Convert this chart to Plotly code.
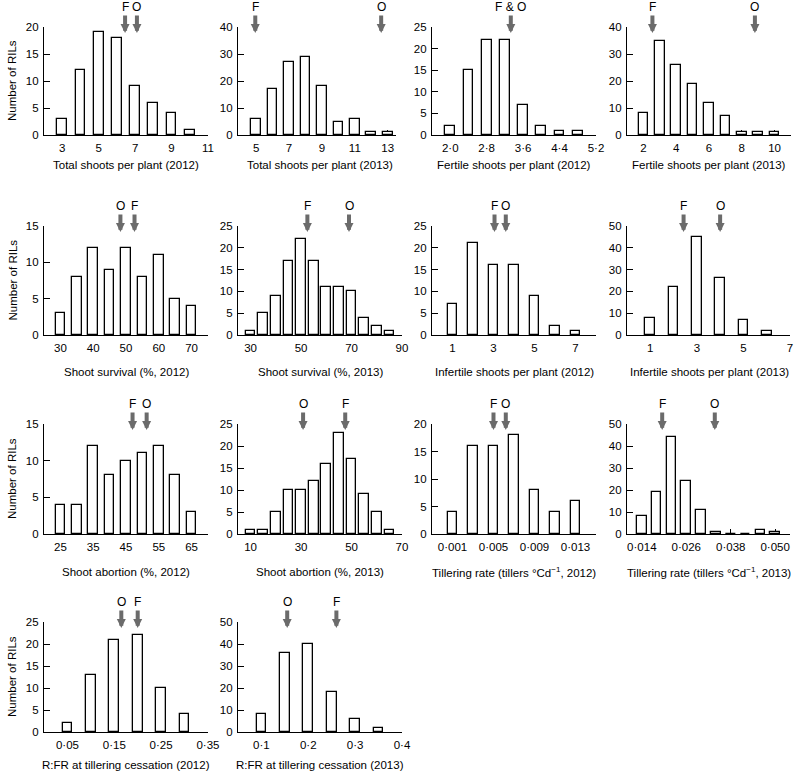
import plotly.graph_objects as go

# ---------------- data ----------------
total12_x = [3, 4, 5, 6, 7, 8, 9, 10]
total12_n = [3, 12, 19, 18, 9, 6, 4, 1]
total12_ticks = [3, 5, 7, 9, 11]
total12_marks = [("F", 6.45), ("O", 7.1)]

total13_x = [5, 6, 7, 8, 9, 10, 11, 12, 13]
total13_n = [6, 17, 27, 29, 18, 5, 6, 1, 1]
total13_ticks = [5, 7, 9, 11, 13]
total13_marks = [("F", 4.95), ("O", 12.6)]

fert12_x = [2.0, 2.4, 2.8, 3.2, 3.6, 4.0, 4.4, 4.8]
fert12_n = [2, 15, 22, 22, 7, 2, 1, 1]
fert12_ticks = [2.0, 2.8, 3.6, 4.4, 5.2]
fert12_marks = [("F & O", 3.33)]

fert13_x = [2, 3, 4, 5, 6, 7, 8, 9, 10]
fert13_n = [8, 35, 26, 19, 12, 7, 1, 1, 1]
fert13_ticks = [2, 4, 6, 8, 10]
fert13_marks = [("F", 2.55), ("O", 8.8)]

surv12_x = [30, 35, 40, 45, 50, 55, 60, 65, 70]
surv12_n = [3, 8, 12, 9, 12, 8, 11, 5, 4]
surv12_ticks = [30, 40, 50, 60, 70]
surv12_marks = [("O", 48.3), ("F", 52.6)]

surv13_x = [30, 35, 40, 45, 50, 55, 60, 65, 70, 75, 80, 85]
surv13_n = [1, 5, 9, 17, 22, 17, 11, 11, 10, 4, 2, 1]
surv13_ticks = [30, 50, 70, 90]
surv13_marks = [("F", 52.5), ("O", 69.0)]

inf12_x = [1, 2, 3, 4, 5, 6, 7]
inf12_n = [7, 21, 16, 16, 9, 2, 1]
inf12_ticks = [1, 3, 5, 7]
inf12_marks = [("F", 3.05), ("O", 3.6)]

inf13_x = [1, 2, 3, 4, 5, 6]
inf13_n = [8, 22, 45, 26, 7, 2]
inf13_ticks = [1, 3, 5, 7]
inf13_marks = [("F", 2.43), ("O", 4.0)]

abort12_x = [25, 30, 35, 40, 45, 50, 55, 60, 65]
abort12_n = [4, 4, 12, 8, 10, 11, 12, 8, 3]
abort12_ticks = [25, 35, 45, 55, 65]
abort12_marks = [("F", 47.0), ("O", 51.3)]

abort13_x = [10, 15, 20, 25, 30, 35, 40, 45, 50, 55, 60, 65]
abort13_n = [1, 1, 5, 10, 10, 12, 16, 23, 17, 9, 5, 1]
abort13_ticks = [10, 30, 50, 70]
abort13_marks = [("O", 30.8), ("F", 47.5)]

till12_x = [0.001, 0.003, 0.005, 0.007, 0.009, 0.011, 0.013]
till12_n = [4, 16, 16, 18, 8, 4, 6]
till12_ticks = [0.001, 0.005, 0.009, 0.013]
till12_marks = [("F", 0.005), ("O", 0.0062)]

till13_x = [0.014, 0.018, 0.022, 0.026, 0.030, 0.034, 0.038, 0.042, 0.046, 0.050]
till13_n = [8, 19, 44, 24, 11, 1, 0, 0, 2, 1]
till13_ticks = [0.014, 0.026, 0.038, 0.050]
till13_marks = [("F", 0.0195), ("O", 0.0337)]

rfr12_x = [0.05, 0.10, 0.15, 0.20, 0.25, 0.30]
rfr12_n = [2, 13, 21, 22, 10, 4]
rfr12_ticks = [0.05, 0.15, 0.25, 0.35]
rfr12_marks = [("O", 0.165), ("F", 0.20)]

rfr13_x = [0.10, 0.15, 0.20, 0.25, 0.30, 0.35]
rfr13_n = [8, 36, 40, 18, 6, 2]
rfr13_ticks = [0.1, 0.2, 0.3, 0.4]
rfr13_marks = [("O", 0.155), ("F", 0.26)]

titles = [
    "Total shoots per plant (2012)", "Total shoots per plant (2013)",
    "Fertile shoots per plant (2012)", "Fertile shoots per plant (2013)",
    "Shoot survival (%, 2012)", "Shoot survival (%, 2013)",
    "Infertile shoots per plant (2012)", "Infertile shoots per plant (2013)",
    "Shoot abortion (%, 2012)", "Shoot abortion (%, 2013)",
    "Tillering rate (tillers °Cd<sup>−1</sup>, 2012)",
    "Tillering rate (tillers °Cd<sup>−1</sup>, 2013)",
    "R:FR at tillering cessation (2012)", "R:FR at tillering cessation (2013)",
]
y_title = "Number of RILs"

# panel configuration: (x, counts, ticks, decimals, marks, xrange, ymax, dtick, width_px)
panels = [
    (total12_x, total12_n, total12_ticks, 0, total12_marks, [2, 11], 20, 5, 164),
    (total13_x, total13_n, total13_ticks, 0, total13_marks, [3.9, 13.5], 40, 10, 158),
    (fert12_x, fert12_n, fert12_ticks, 1, fert12_marks, [1.6, 5.2], 25, 5, 164),
    (fert13_x, fert13_n, fert13_ticks, 0, fert13_marks, [1, 11], 40, 10, 164),
    (surv12_x, surv12_n, surv12_ticks, 0, surv12_marks, [25, 75], 15, 5, 164),
    (surv13_x, surv13_n, surv13_ticks, 0, surv13_marks, [25, 90], 25, 5, 164),
    (inf12_x, inf12_n, inf12_ticks, 0, inf12_marks, [0, 8], 25, 5, 164),
    (inf13_x, inf13_n, inf13_ticks, 0, inf13_marks, [0, 7], 50, 10, 163),
    (abort12_x, abort12_n, abort12_ticks, 0, abort12_marks, [20, 70], 15, 5, 164),
    (abort13_x, abort13_n, abort13_ticks, 0, abort13_marks, [5, 70], 25, 5, 164),
    (till12_x, till12_n, till12_ticks, 3, till12_marks, [-0.001, 0.015], 20, 5, 164),
    (till13_x, till13_n, till13_ticks, 3, till13_marks, [0.010, 0.054], 50, 10, 163),
    (rfr12_x, rfr12_n, rfr12_ticks, 2, rfr12_marks, [0.0, 0.35], 25, 5, 164),
    (rfr13_x, rfr13_n, rfr13_ticks, 1, rfr13_marks, [0.05, 0.40], 50, 10, 164),
]

# ---------------- layout geometry (pixels) ----------------
W, H = 794, 774
col_left = [44, 238, 432, 627]
row_top = [27, 226, 424, 622]
row_bot = [135, 335, 534, 732]
title_off = [30, 37, 38, 33]
BAR_PX = 9.7
FONT = "Liberation Sans, Arial, Helvetica, sans-serif"
FS = 11.5
GRAY = "#6b6b6b"
LW = 1.3


def fmt(v, dec):
    return f"{v:.{dec}f}".replace(".", "·")


fig = go.Figure()
annotations = []
layout = {}

for i, (xs, ns, ticks, dec, marks, xr, ymax, dy, pw) in enumerate(panels):
    k = i + 1
    r, c = divmod(i, 4)
    sfx = "" if k == 1 else str(k)
    x0 = col_left[c] / W
    x1 = (col_left[c] + pw) / W
    y0 = 1 - row_bot[r] / H
    y1 = 1 - row_top[r] / H
    span = xr[1] - xr[0]
    bw = BAR_PX * span / pw
    xr_draw = [xr[0], xr[1] + span * 1e-4]

    fig.add_trace(go.Bar(
        x=xs, y=ns, width=bw,
        marker=dict(color="white", line=dict(color="black", width=LW)),
        xaxis="x" + sfx, yaxis="y" + sfx, showlegend=False,
        hoverinfo="x+y",
    ))

    layout["xaxis" + sfx] = dict(
        domain=[x0, x1], range=xr_draw, anchor="y" + sfx,
        tickmode="array", tickvals=ticks, ticktext=[fmt(t, dec) for t in ticks],
        ticks="inside", ticklen=5, tickwidth=LW, tickcolor="black",
        showline=True, linecolor="black", linewidth=LW,
        showgrid=False, zeroline=False, layer="below traces",
        tickfont=dict(size=FS, color="black", family=FONT),
        ticklabelstandoff=2, automargin=False, ticklabeloverflow="allow",
    )
    layout["yaxis" + sfx] = dict(
        domain=[y0, y1], range=[0, ymax], anchor="x" + sfx,
        tick0=0, dtick=dy,
        ticks="inside", ticklen=6, tickwidth=LW, tickcolor="black",
        showline=True, linecolor="black", linewidth=LW,
        showgrid=False, zeroline=False, layer="below traces",
        tickfont=dict(size=FS, color="black", family=FONT),
        ticklabelstandoff=2, automargin=False,
    )

    # x-axis title (centred on the standard panel width)
    xc = (col_left[c] + 82) / W
    annotations.append(dict(
        text=titles[i], xref="paper", yref="paper",
        x=xc, y=1 - (row_bot[r] + title_off[r]) / H,
        xanchor="center", yanchor="middle", showarrow=False,
        font=dict(size=FS, color="black", family=FONT),
    ))
    # F / O arrows
    ph = row_bot[r] - row_top[r]
    for lab, xv in marks:
        annotations.append(dict(
            text=lab, x=xv, y=1 - 6 / ph,
            xref="x" + sfx, yref=("y" + sfx) + " domain",
            showarrow=True, arrowhead=2, arrowsize=0.45, arrowwidth=4,
            arrowcolor=GRAY, ax=0, ay=-26, standoff=0,
            font=dict(size=12, color="black", family=FONT),
        ))

# y-axis titles for first column
for r in range(4):
    annotations.append(dict(
        text=y_title, xref="paper", yref="paper",
        x=12 / W, y=1 - (row_top[r] + row_bot[r]) / 2 / H,
        xanchor="center", yanchor="middle", showarrow=False, textangle=-90,
        font=dict(size=FS, color="black", family=FONT),
    ))

fig.update_layout(
    width=W, height=H,
    margin=dict(l=0, r=0, t=0, b=0, autoexpand=False),
    paper_bgcolor="white", plot_bgcolor="white",
    font=dict(family=FONT, size=FS, color="black"),
    annotations=annotations,
    bargap=0,
    **layout,
)

fig.write_html(
    "out.html",
    config={"displayModeBar": False},
    post_script="document.body.style.margin='0';document.body.style.padding='0';"
                "document.documentElement.style.overflow='hidden';",
)
